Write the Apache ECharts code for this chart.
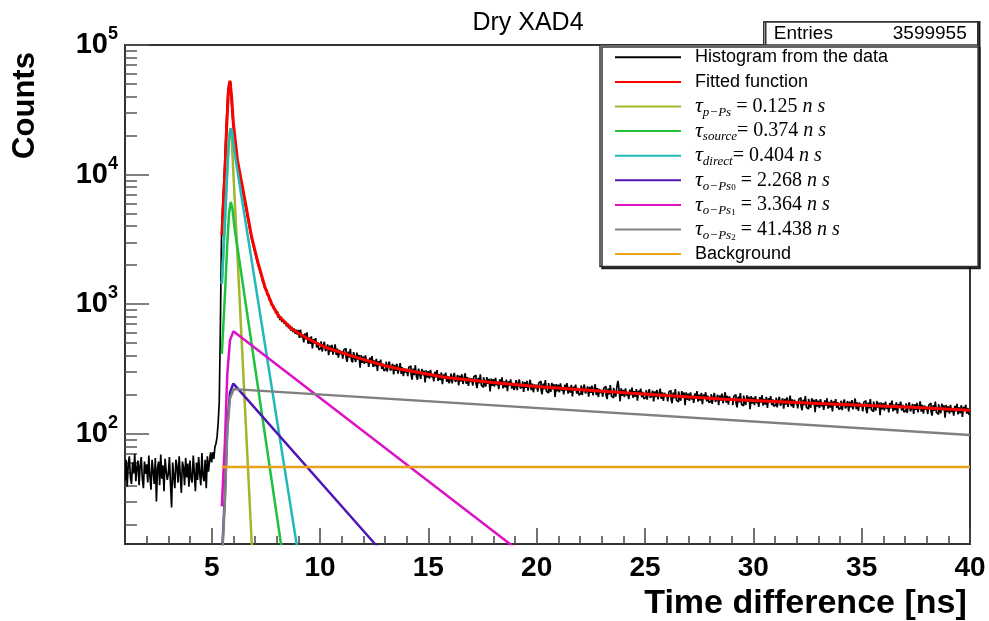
<!DOCTYPE html>
<html><head><meta charset="utf-8">
<script src="https://cdn.jsdelivr.net/npm/echarts@6/dist/echarts.min.js"></script>
<style>html,body{margin:0;padding:0;background:#fff}#c{width:989px;height:621px}</style>
</head><body><div id="c"></div>
<script>
// ---------------- DATA ----------------
const chartTitle = 'Dry XAD4';
const entriesValue = '3599955';
const histStart = 1.0;
const binWidth = 0.05;
// histogram bin contents (counts), one value per 0.05 ns bin from 1.0 ns to 40.0 ns
const histCounts = [
44,63,39,58,67,46,41,60,50,70,43,55,62,40,57,66,45,38,61,49,
58,42,68,47,37,63,51,41,65,30,54,61,40,69,45,57,36,64,52,44,
49,66,41,27,60,47,38,63,56,42,67,48,35,61,55,40,65,46,59,39,
62,45,42,68,50,36,60,44,66,49,40,71,47,43,63,38,67,51,61,72,
60,72,64,79,
84,95,121,175,620,3100,5400,7900,12000,19500,30000,44500,51500,50500,39500,29500,
23100,19200,16300,13500,12100,10700,9820,8760,7990,7150,6500,5790,5280,4700,4270,3810,3470,3130,2930,2670,
2510,2290,2150,1970,1880,1730,1640,1500,1430,1320,1280,1190,1165,1085,1065,985,980,930,905,850,
875,790,835,752,800,728,765,705,740,675,712,652,690,625,668,610,650,592,635,584,
633,549,635,554,581,508,596,534,605,495,553,495,564,455,538,497,547,463,508,444,
459,517,431,484,513,435,451,489,404,478,430,486,408,449,489,405,454,386,444,411,
434,380,445,454,390,359,430,387,453,370,356,426,383,358,422,373,405,323,404,353,
396,346,403,353,373,328,387,349,397,328,368,331,378,306,363,337,373,316,348,306,
317,360,301,340,361,307,319,347,287,340,306,347,291,321,351,290,326,278,319,297,
316,278,326,334,287,262,318,283,338,277,261,318,287,265,316,283,307,249,309,271,
304,266,311,273,289,254,301,272,310,256,288,259,297,241,287,267,296,252,279,246,
257,291,245,276,295,251,261,285,236,281,253,288,242,267,293,243,274,234,270,251,
267,235,276,283,244,225,270,245,287,236,228,273,247,231,274,243,265,212,266,234,
264,231,270,237,252,221,263,238,272,224,254,228,262,213,254,236,263,223,247,218,
228,259,217,246,262,224,232,254,210,250,226,256,215,239,261,217,244,209,240,224,
239,211,247,254,219,202,244,221,259,213,206,246,223,210,247,220,241,192,242,212,
239,209,245,215,229,201,239,216,246,204,230,208,238,194,231,215,239,204,226,199,
206,236,199,225,240,205,213,232,193,230,207,235,198,220,241,199,225,192,222,207,
217,193,225,232,200,185,223,201,237,195,189,226,206,193,229,256,222,178,224,196,
218,192,224,197,209,185,219,199,227,189,213,193,221,180,215,201,223,191,210,186,
191,217,183,207,221,189,197,215,178,212,192,218,184,204,223,186,209,179,207,193,
202,178,210,216,186,172,208,188,221,182,176,212,192,180,213,190,208,166,209,183,
204,179,209,184,196,173,205,186,213,177,200,180,207,169,201,188,209,178,197,174,
178,202,170,193,206,176,183,200,166,198,180,204,172,191,209,174,196,168,194,181,
187,166,195,200,173,160,193,175,206,169,164,197,178,167,198,177,193,155,195,171,
190,166,195,172,183,161,192,174,199,165,186,168,193,158,188,175,195,166,184,163,
167,190,160,181,193,165,172,188,156,186,168,191,161,179,197,163,184,158,183,170,
178,157,185,190,164,152,183,166,195,160,155,186,169,159,188,167,183,147,185,162,
180,158,185,163,173,153,181,164,188,156,176,159,183,149,178,166,185,158,175,154,
159,180,152,172,184,157,164,179,149,177,160,182,154,170,187,155,175,150,174,162,
169,149,175,180,156,144,174,157,185,153,148,177,161,151,179,159,174,139,175,154,
172,151,177,156,165,146,173,157,180,149,168,152,175,143,170,159,177,151,167,147,
151,172,145,164,175,149,156,170,142,169,153,173,146,162,178,148,167,143,165,154,
161,142,167,172,149,138,166,150,177,146,141,169,153,144,171,152,166,133,167,147,
163,143,167,147,157,138,164,149,170,141,160,144,166,135,161,150,167,143,158,140
];
// fitted curves as [time (ns), counts]
const fittedFunction = [[5.47,3400],[5.55,6400],[5.615,10800],[5.693,23300],[5.767,42300],[5.845,53000],[5.92,40000],[6.0,25000],[6.19,12900],[6.538,6320],[6.847,3290],[7.151,2050],[7.461,1352],[7.77,1005],[8.074,817],[8.693,644],[9.459,539],[10.23,465],[11.6,392],[13.0,335],[13.67,316],[15.81,272],[17.96,249],[20.1,231],[24.4,205],[28.69,185],[32.98,171],[37.27,160],[40,152]];
const compPPs = [[5.47,1430],[5.62,4680],[5.71,9900],[5.78,18000],[5.86,22700],[5.92,19500],[6.85,14.1],[6.95,6.5]];
const compSource = [[5.47,413],[5.62,1250],[5.71,2680],[5.80,5000],[5.88,6140],[5.95,5600],[6.05,3960],[8.20,14.1],[8.4,8.3]];
const compDirect = [[5.47,1430],[5.62,4680],[5.71,9900],[5.80,18500],[5.88,22700],[5.95,21400],[6.05,15000],[8.92,14.1],[9.1,9.1]];
const compOPs0 = [[5.47,10.9],[5.615,34.9],[5.72,114],[5.845,208],[6.0,244],[12.54,14.1],[12.7,13.2]];
const compOPs1 = [[5.47,27.5],[5.615,88],[5.72,288],[5.845,525],[6.0,617],[18.77,14.1],[19.0,13.2]];
const compOPs2 = [[5.47,9.9],[5.615,31.6],[5.72,104],[5.845,188],[6.02,221],[40,98]];
const compBackground = [[5.47,55.5],[40,55.5]];

const seriesNames = ['Histogram from the data','Fitted function','tau_pPs','tau_source','tau_direct','tau_oPs0','tau_oPs1','tau_oPs2','Background'];
const seriesColors = ['#000000','#ff0000','#a3b52a','#1ec23c','#22b9b9','#4f16b5','#dc12c4','#808080','#e8a31c'];
const legendRichText = {
  'tau_pPs':   '{t|τ}{sub|p−Ps}{eq| = 0.125 }{it|n s}',
  'tau_source':'{t|τ}{sub|source}{eq|= 0.374 }{it|n s}',
  'tau_direct':'{t|τ}{sub|direct}{eq|= 0.404 }{it|n s}',
  'tau_oPs0':  '{t|τ}{sub|o−Ps}{sub2|0}{eq| = 2.268 }{it|n s}',
  'tau_oPs1':  '{t|τ}{sub|o−Ps}{sub2|1}{eq| = 3.364 }{it|n s}',
  'tau_oPs2':  '{t|τ}{sub|o−Ps}{sub2|2}{eq| = 41.438 }{it|n s}'
};

const xMin = 1, xMax = 40;
const xMajorTicks = [5,10,15,20,25,30,35,40];
const xMinorTicks = [2,3,4,6,7,8,9,11,12,13,14,16,17,18,19,21,22,23,24,26,27,28,29,31,32,33,34,36,37,38,39];
const yMinCount = 14.1, yMaxCount = 100000;
const yDecadeExponents = [2,3,4,5];
const yMinorTickCounts = [20,30,40,50,60,70,80,90,200,300,400,500,600,700,800,900,2000,3000,4000,5000,6000,7000,8000,9000,20000,30000,40000,50000,60000,70000,80000,90000];

// ---------------- BUILD ----------------
const lg = v => Math.log10(v);
const histData = histCounts.map((c, i) => [histStart + (i + 0.5) * binWidth, lg(c)]);
const toLog = arr => arr.map(p => [p[0], lg(p[1])]);
const curveSets = [fittedFunction, compPPs, compSource, compDirect, compOPs0, compOPs1, compOPs2, compBackground];

const FRAME = '#333';
const sansFont = '"Liberation Sans", Arial, sans-serif';
const serifFont = '"Liberation Serif", "Times New Roman", serif';

const series = [{
  name: seriesNames[0], type: 'line', data: histData, step: 'middle',
  symbol: 'none', showSymbol: false, clip: true, animation: false,
  lineStyle: {color: seriesColors[0], width: 1.7}, itemStyle: {color: seriesColors[0]}, z: 2
}];
curveSets.forEach((d, k) => {
  series.push({
    name: seriesNames[k + 1], type: 'line', data: toLog(d),
    symbol: 'none', showSymbol: false, clip: true, animation: false,
    lineStyle: {color: seriesColors[k + 1], width: k === 0 ? 3 : 2.5},
    itemStyle: {color: seriesColors[k + 1]}, z: 3 + k
  });
});

const chart = echarts.init(document.getElementById('c'), null, {renderer: 'canvas'});
chart.setOption({
  animation: false,
  backgroundColor: '#ffffff',
  title: {
    text: chartTitle, left: 523, top: 6, textAlign: 'center',
    textStyle: {fontFamily: sansFont, fontSize: 25, fontWeight: 'normal', color: '#000'}
  },
  grid: {left: 125, right: 19, top: 45, bottom: 77, show: true, borderColor: FRAME, borderWidth: 2,
         backgroundColor: 'transparent', containLabel: false, outerBoundsMode: 'none'},
  xAxis: [{
    type: 'value', min: xMin, max: xMax, position: 'bottom',
    axisLine: {show: true, onZero: false, lineStyle: {color: FRAME, width: 2}},
    axisTick: {show: true, inside: true, length: 16, customValues: xMajorTicks, lineStyle: {color: '#444', width: 1.5}},
    axisLabel: {show: true, customValues: xMajorTicks, margin: 10, fontFamily: sansFont, fontSize: 28, fontWeight: 'bold', color: '#000'},
    splitLine: {show: false},
    name: 'Time difference [ns]', nameLocation: 'middle', nameGap: 32,
    nameTextStyle: {padding: [0, 0, 0, 516], fontFamily: sansFont, fontSize: 34, fontWeight: 'bold', color: '#000'}
  }, {
    type: 'value', min: xMin, max: xMax, position: 'bottom',
    axisLine: {show: false, onZero: false},
    axisTick: {show: true, inside: true, length: 8, customValues: xMinorTicks, lineStyle: {color: '#444', width: 1.5}},
    axisLabel: {show: false}, splitLine: {show: false}
  }],
  yAxis: [{
    type: 'value', min: lg(yMinCount), max: lg(yMaxCount), position: 'left',
    axisLine: {show: true, onZero: false, lineStyle: {color: FRAME, width: 2}},
    axisTick: {show: true, inside: true, length: 24, customValues: yDecadeExponents, lineStyle: {color: '#555', width: 1.5}},
    axisLabel: {
      show: true, customValues: yDecadeExponents, margin: 7,
      formatter: v => '{b|10}{s|' + Math.round(v) + '}',
      rich: {
        b: {fontFamily: sansFont, fontSize: 29, fontWeight: 'bold', color: '#000', lineHeight: 40},
        s: {fontFamily: sansFont, fontSize: 18, fontWeight: 'bold', color: '#000', lineHeight: 18, verticalAlign: 'top'}
      }
    },
    splitLine: {show: false},
    name: 'Counts', nameLocation: 'middle', nameRotate: 90, nameGap: 84,
    nameTextStyle: {fontFamily: sansFont, fontSize: 31, fontWeight: 'bold', color: '#000', padding: [0, 0, 0, 378]}
  }, {
    type: 'value', min: lg(yMinCount), max: lg(yMaxCount), position: 'left',
    axisLine: {show: false, onZero: false},
    axisTick: {show: true, inside: true, length: 12, customValues: yMinorTickCounts.map(lg), lineStyle: {color: '#555', width: 1.5}},
    axisLabel: {show: false}, splitLine: {show: false}
  }],
  legend: {
    orient: 'vertical', left: 600, top: 45, itemGap: 0, itemWidth: 66, itemHeight: 24.6,
    padding: [0, 90, 0, 14], backgroundColor: '#fff', borderColor: FRAME, borderWidth: 1.5,
    shadowColor: 'rgba(0,0,0,0.8)', shadowOffsetX: 2, shadowOffsetY: 2, shadowBlur: 0,
    selectedMode: false,
    data: seriesNames,
    lineStyle: {width: 2},
    itemStyle: {opacity: 0},
    formatter: name => '{g|}' + (legendRichText[name] || name),
    textStyle: {
      fontFamily: sansFont, fontSize: 18, color: '#000', lineHeight: 24.6,
      rich: {
        g: {width: 9},
        t: {fontFamily: serifFont, fontStyle: 'italic', fontSize: 22, lineHeight: 24.6},
        sub: {fontFamily: serifFont, fontStyle: 'italic', fontSize: 13, lineHeight: 15, verticalAlign: 'bottom'},
        sub2: {fontFamily: serifFont, fontStyle: 'normal', fontSize: 9, lineHeight: 7, verticalAlign: 'bottom'},
        eq: {fontFamily: serifFont, fontSize: 20, lineHeight: 24.6},
        it: {fontFamily: serifFont, fontStyle: 'italic', fontSize: 20, lineHeight: 24.6}
      }
    }
  },
  graphic: [{
    type: 'group', left: 763, top: 21, z: 10,
    children: [
      {type: 'rect', shape: {x: 0, y: 0, width: 214, height: 24}, style: {fill: '#fff', stroke: FRAME, lineWidth: 1.5, shadowColor: 'rgba(0,0,0,0.8)', shadowOffsetX: 2, shadowOffsetY: 0, shadowBlur: 0}},
      {type: 'text', x: 10, y: 12, style: {text: 'Entries', font: '19px ' + sansFont, fill: '#000', verticalAlign: 'middle'}},
      {type: 'text', x: 203, y: 12, style: {text: entriesValue, font: '19px ' + sansFont, fill: '#000', align: 'right', verticalAlign: 'middle'}}
    ]
  }],
  series: series
});
</script></body></html>
